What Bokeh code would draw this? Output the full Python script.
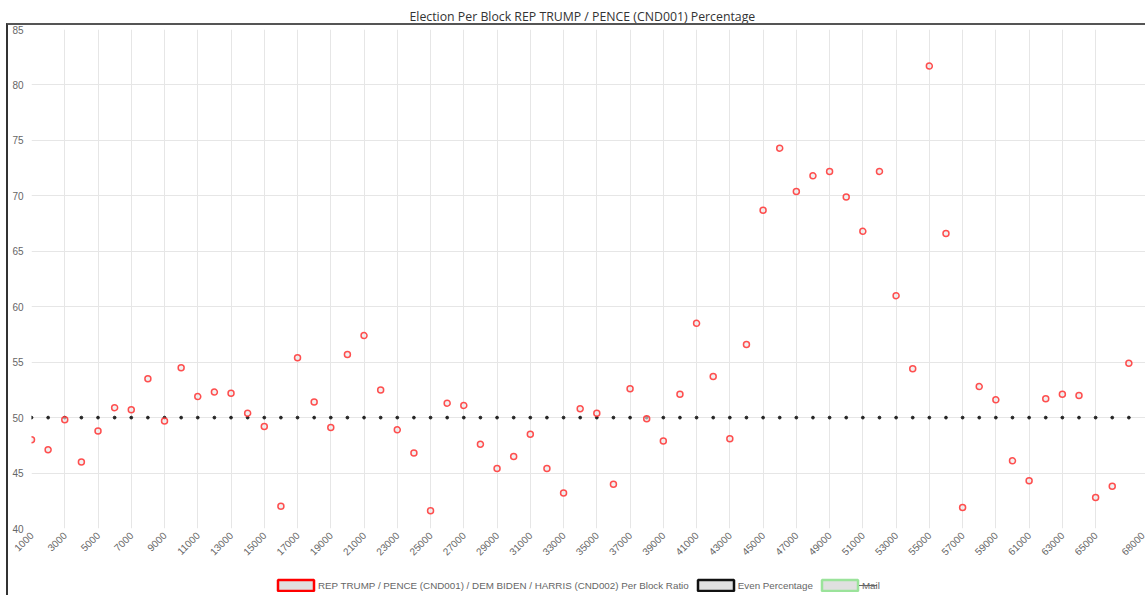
import math
from bokeh.plotting import figure
from bokeh.layouts import column
from bokeh.models import (Legend, LegendItem, FixedTicker, Range1d, InlineStyleSheet)
from bokeh.embed import file_html
from bokeh.resources import INLINE

# ---- data ----
blocks = list(range(1000, 68000, 1000))  # 1000 .. 67000
trump_pct = [48.0, 47.1, 49.8, 46.0, 48.8, 50.9, 50.7, 53.5, 49.7, 54.5,
             51.9, 52.3, 52.2, 50.4, 49.2, 42.0, 55.4, 51.4, 49.1, 55.7,
             57.4, 52.5, 48.9, 46.8, 41.6, 51.3, 51.1, 47.6, 45.4, 46.5,
             48.5, 45.4, 43.2, 50.8, 50.4, 44.0, 52.6, 49.9, 47.9, 52.1,
             58.5, 53.7, 48.1, 56.6, 68.7, 74.3, 70.4, 71.8, 72.2, 69.9,
             66.8, 72.2, 61.0, 54.4, 81.7, 66.6, 41.9, 52.8, 51.6, 46.1,
             44.3, 51.7, 52.1, 52.0, 42.8, 43.8, 54.9]
even_pct = [50] * len(blocks)
x_tick_labels = [1000, 3000, 5000, 7000, 9000, 11000, 13000, 15000, 17000,
                 19000, 21000, 23000, 25000, 27000, 29000, 31000, 33000,
                 35000, 37000, 39000, 41000, 43000, 45000, 47000, 49000,
                 51000, 53000, 55000, 57000, 59000, 61000, 63000, 65000, 68000]
y_ticks = [40, 45, 50, 55, 60, 65, 70, 75, 80, 85]
title_text = "Election Per Block REP TRUMP / PENCE (CND001) Percentage"
series_labels = ["REP TRUMP / PENCE (CND001) / DEM BIDEN / HARRIS (CND002) Per Block Ratio",
                 "Even Percentage", "Mail"]
legend_line_colors = ["#ff0000", "#111111", "#9be39b"]

p = figure(width=1145, height=568, output_backend="svg", toolbar_location=None,
           x_range=Range1d(1000, 68000), y_range=Range1d(40, 85),
           min_border_left=31, min_border_right=0, min_border_top=29,
           min_border_bottom=40)

p.title.text = title_text
p.title.align = "left"
p.title.offset = 378
p.title.text_font = "Open Sans"
p.title.text_font_size = "12.3px"
p.title.text_font_style = "normal"
p.title.text_color = "#333333"
p.title.standoff = 9
p.outline_line_color = None

p.xaxis.ticker = FixedTicker(ticks=x_tick_labels)
p.yaxis.ticker = FixedTicker(ticks=y_ticks)
for ax in (p.xaxis, p.yaxis):
    ax.axis_line_color = None
    ax.major_tick_line_color = None
    ax.minor_tick_line_color = None
    ax.major_tick_out = 0
    ax.major_tick_in = 0
    ax.minor_tick_out = 0
    ax.major_label_text_font = "Liberation Sans"
    ax.major_label_text_font_size = "10px"
    ax.major_label_text_color = "#666666"
p.yaxis.major_label_standoff = 8
p.xaxis.major_label_standoff = 5
p.xaxis.major_label_orientation = math.pi / 4
p.xgrid.grid_line_color = "#e6e6e6"
p.ygrid.grid_line_color = "#e6e6e6"

p.scatter(blocks, even_pct, size=2.8, color="#222222")
p.scatter(blocks, trump_pct, size=6, line_color="#ff3030", line_alpha=0.85,
          line_width=1.5, fill_color="#e8e8e8", fill_alpha=0.6)

# ---- legend strip (separate small figure so it is not clipped) ----
lg = figure(width=1145, height=27, output_backend="svg", toolbar_location=None,
            x_range=Range1d(0, 1), y_range=Range1d(0, 1),
            min_border=0, min_border_left=0, min_border_right=0,
            min_border_top=0, min_border_bottom=0)
lg.axis.visible = False
lg.grid.visible = False
lg.outline_line_color = None

nan = float("nan")
items = []
for lab, col in zip(series_labels, legend_line_colors):
    r = lg.quad(left=[nan], right=[nan], top=[nan], bottom=[nan], fill_color="#e0e0e0",
                line_color=col, line_width=2.5)
    items.append(LegendItem(label=lab, renderers=[r]))

legend = Legend(items=items, orientation="horizontal", location=(242, 3),
                glyph_width=45, glyph_height=14, label_standoff=0, spacing=4,
                padding=0, margin=0, label_text_font="Liberation Sans",
                label_text_font_size="9.8px", label_text_color="#666666",
                border_line_color=None, background_fill_alpha=0)
lg.add_layout(legend)

css = InlineStyleSheet(css="""
:host { position: relative; }
:host::after { content: ''; position: absolute; left: 6px; top: 23px; right: -20px; bottom: -20px;
  border-left: 2px solid #333; border-top: 2px solid #555; pointer-events: none; z-index: 10; }
:host::before { content: ''; position: absolute; left: 859px; top: 585px; width: 18px; height: 1px;
  background: #666; pointer-events: none; z-index: 10; }
""")
layout = column(p, lg, spacing=0, stylesheets=[css])

open("out.html", "w").write(file_html(layout, INLINE))
